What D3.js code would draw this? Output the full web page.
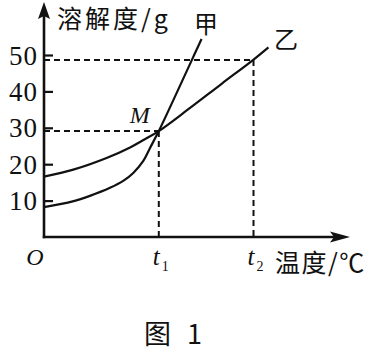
<!DOCTYPE html>
<html><head><meta charset="utf-8">
<script src="https://cdn.jsdelivr.net/npm/d3@7"></script>
<style>
html,body{margin:0;padding:0;background:#fff;}
svg{display:block;}
</style></head>
<body>
<svg id="c" width="374" height="354"></svg>
<script>
// ---- data ----
const yTicks = [10, 20, 30, 40, 50];
const xMarks = [{name: "t", sub: "1", value: 40}, {name: "t", sub: "2", value: 73}];
const jiaT = [0, 10, 16, 23, 27.6, 31.1, 34.6, 36.9, 40, 51.5, 54.9];
const jiaS = [8.2, 9.8, 11.3, 13.5, 15.4, 17.6, 20.9, 24.4, 29.1, 48.6, 54.4];
const yiT = [0, 10.2, 21.8, 30, 35, 40, 50.3, 61.9, 72.8, 78.2];
const yiS = [16.6, 18.5, 21.7, 24.6, 26.8, 29.1, 35.1, 42.1, 48.6, 52.1];
const pointM = {t: 40, s: 29.1};
const pointT2 = {t: 73, s: 48.6};

const svg = d3.select("#c");
const x = d3.scaleLinear().domain([0, 100]).range([44, 331]);
const y = d3.scaleLinear().domain([0, 50]).range([237, 55]);
const serif = "'Liberation Serif','Noto Sans CJK SC',serif";
const cjk = "'Noto Sans CJK SC','Liberation Serif',sans-serif";

// dashed guide lines
const dash = svg.append("g").attr("stroke", "#111").attr("stroke-width", 2).attr("stroke-dasharray", "6,4").attr("fill", "none");
[pointM, pointT2].forEach(p => {
  dash.append("line").attr("x1", x(0)).attr("x2", x(p.t)).attr("y1", y(p.s)).attr("y2", y(p.s));
  dash.append("line").attr("x1", x(p.t)).attr("x2", x(p.t)).attr("y1", y(p.s)).attr("y2", y(0));
});

// y axis ticks + labels
const yAxis = d3.axisLeft(y).tickValues(yTicks).tickSizeInner(-9).tickSizeOuter(0).tickPadding(6);
const gy = svg.append("g").attr("transform", `translate(${x(0)},0)`).call(yAxis);
gy.select(".domain").remove();
gy.selectAll(".tick line").attr("stroke", "#111").attr("stroke-width", 2.2);
gy.selectAll(".tick text").attr("font-family", serif).attr("font-size", 27).attr("letter-spacing", 1).attr("fill", "#111").attr("dy", "0.34em");

// axes lines with arrows
const yTop = y.invert(2), xEnd = x.invert(350);
svg.append("line").attr("x1", x(0)).attr("x2", x(0)).attr("y1", y(0) + 1.2).attr("y2", y(yTop) + 10)
  .attr("stroke", "#111").attr("stroke-width", 2.6);
svg.append("line").attr("x1", x(0) - 1.2).attr("x2", x(xEnd) - 10).attr("y1", y(0)).attr("y2", y(0))
  .attr("stroke", "#111").attr("stroke-width", 2.6);
svg.append("path").attr("d", `M${x(0)},${y(yTop)} L${x(0)+6},${y(yTop)+17} L${x(0)},${y(yTop)+14} L${x(0)-6},${y(yTop)+17}Z`).attr("fill", "#111");
svg.append("path").attr("d", `M${x(xEnd)},${y(0)} L${x(xEnd)-20},${y(0)-5.5} L${x(xEnd)-16},${y(0)} L${x(xEnd)-20},${y(0)+5.5}Z`).attr("fill", "#111");

// curves
const line = d3.line().x(d => x(d[0])).y(d => y(d[1])).curve(d3.curveCatmullRom.alpha(0.5));
svg.append("path").datum(d3.zip(jiaT, jiaS)).attr("d", line).attr("fill", "none").attr("stroke", "#111").attr("stroke-width", 2.2);
svg.append("path").datum(d3.zip(yiT, yiS)).attr("d", line).attr("fill", "none").attr("stroke", "#111").attr("stroke-width", 2.2);

// x labels t1, t2
xMarks.forEach(m => {
  const t = svg.append("text").attr("x", x(m.value) - 6).attr("y", 265).attr("font-family", serif).attr("font-size", 25).attr("fill", "#111");
  t.append("tspan").attr("font-style", "italic").text(m.name);
  t.append("tspan").attr("font-size", 14).attr("dx", 2).attr("dy", 6).text(m.sub);
});

// O
svg.append("text").attr("x", 35).attr("y", 265).attr("text-anchor", "middle").attr("font-family", serif).attr("font-style", "italic").attr("font-size", 24).attr("fill", "#111").text("O");

// M
svg.append("text").attr("x", x(pointM.t) - 19).attr("y", 123).attr("text-anchor", "middle").attr("font-family", serif).attr("font-style", "italic").attr("font-size", 24).attr("fill", "#111").text("M");

// axis titles
svg.append("text").attr("x", 57).attr("y", 28).attr("font-family", cjk).attr("font-size", 25).attr("letter-spacing", 3).attr("fill", "#111").text("溶解度/g");
svg.append("text").attr("x", 275).attr("y", 272).attr("font-family", cjk).attr("font-size", 25).attr("letter-spacing", 1.5).attr("fill", "#111").text("温度/℃");

// curve labels
svg.append("text").attr("x", 206).attr("y", 33).attr("text-anchor", "middle").attr("font-family", cjk).attr("font-size", 24).attr("fill", "#111").text("甲");
svg.append("text").attr("x", 286).attr("y", 48).attr("text-anchor", "middle").attr("font-family", cjk).attr("font-size", 24).attr("fill", "#111").text("乙");

// figure caption
const cap = svg.append("text").attr("y", 344).attr("font-family", cjk).attr("font-size", 27).attr("fill", "#111");
cap.append("tspan").attr("x", 144).text("图");
cap.append("tspan").attr("x", 187).text("1");
</script>
</body></html>
